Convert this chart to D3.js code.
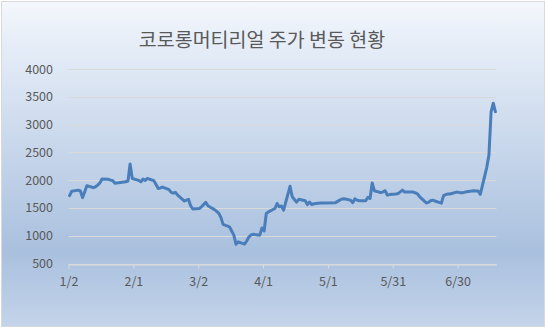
<!DOCTYPE html>
<html>
<head>
<meta charset="utf-8">
<script src="https://cdn.jsdelivr.net/npm/d3@7"></script>
<style>
  body { margin: 0; background: #fff; }
  svg { display: block; }
  text { font-family: "Noto Sans CJK KR", "Noto Sans", sans-serif; fill: #595959; }
</style>
</head>
<body>
<div id="chart"></div>
<script>
// trading days and closing price
const dates = [
  '2020-01-02','2020-01-03','2020-01-06','2020-01-07','2020-01-08','2020-01-09','2020-01-10',
  '2020-01-13','2020-01-14','2020-01-15','2020-01-16','2020-01-17','2020-01-20','2020-01-21',
  '2020-01-22','2020-01-23','2020-01-28','2020-01-29','2020-01-30','2020-01-31',
  '2020-02-03','2020-02-04','2020-02-05','2020-02-06','2020-02-07','2020-02-10','2020-02-11',
  '2020-02-12','2020-02-13','2020-02-14','2020-02-17','2020-02-18','2020-02-19','2020-02-20',
  '2020-02-21','2020-02-24','2020-02-25','2020-02-26','2020-02-27','2020-02-28',
  '2020-03-02','2020-03-03','2020-03-04','2020-03-05','2020-03-06','2020-03-09','2020-03-10',
  '2020-03-11','2020-03-12','2020-03-13','2020-03-16','2020-03-17','2020-03-18','2020-03-19',
  '2020-03-20','2020-03-23','2020-03-24','2020-03-25','2020-03-26','2020-03-27','2020-03-30',
  '2020-03-31',
  '2020-04-01','2020-04-02','2020-04-03','2020-04-06','2020-04-07','2020-04-08','2020-04-09',
  '2020-04-10','2020-04-13','2020-04-14','2020-04-16','2020-04-17','2020-04-20','2020-04-21',
  '2020-04-22','2020-04-23','2020-04-24','2020-04-27','2020-04-28','2020-04-29',
  '2020-05-04','2020-05-06','2020-05-07','2020-05-08','2020-05-11','2020-05-12','2020-05-13',
  '2020-05-14','2020-05-15','2020-05-18','2020-05-19','2020-05-20','2020-05-21','2020-05-22',
  '2020-05-25','2020-05-26','2020-05-27','2020-05-28','2020-05-29',
  '2020-06-01','2020-06-02','2020-06-03','2020-06-04','2020-06-05','2020-06-08','2020-06-09',
  '2020-06-10','2020-06-11','2020-06-12','2020-06-15','2020-06-16','2020-06-17','2020-06-18',
  '2020-06-19','2020-06-22','2020-06-23','2020-06-24','2020-06-25','2020-06-26','2020-06-29',
  '2020-06-30',
  '2020-07-01','2020-07-02','2020-07-03','2020-07-06','2020-07-07','2020-07-08','2020-07-09',
  '2020-07-10','2020-07-13','2020-07-14','2020-07-15','2020-07-16','2020-07-17'
];
const prices = [
  1720,1800,1820,1805,1685,1790,1900,
  1865,1880,1910,1950,2020,2015,2000,
  1990,1945,1970,1985,2290,2030,
  1995,1970,2020,1995,2030,1990,1920,
  1850,1860,1875,1830,1780,1765,1780,
  1730,1625,1640,1655,1540,1480,
  1490,1520,1560,1600,1540,1470,1440,
  1405,1330,1205,1160,1085,1010,845,
  890,850,910,980,1015,1025,1010,
  1140,
  1085,1400,1430,1490,1580,1520,1535,
  1460,1890,1700,1605,1655,1630,1560,
  1605,1560,1575,1590,1590,1590,
  1595,1640,1660,1665,1640,1595,1665,
  1640,1630,1630,1690,1670,1950,1810,
  1775,1790,1810,1730,1740,
  1750,1760,1790,1820,1785,1785,1785,
  1770,1750,1700,1590,1600,1630,1640,
  1625,1585,1720,1740,1750,1750,1785,
  1780,
  1775,1775,1785,1805,1810,1805,1805,
  1745,2230,2450,3230,3385,3230
];
const tickDates = ['2020-01-02','2020-02-01','2020-03-02','2020-04-01','2020-05-01','2020-05-31','2020-06-30'];
const tickLabels = ['1/2','2/1','3/2','4/1','5/1','5/31','6/30'];
const yTicks = [500,1000,1500,2000,2500,3000,3500,4000];
const title = '코로롱머티리얼 주가 변동 현황';

const width = 546, height = 328;
const parse = d3.timeParse('%Y-%m-%d');
const data = dates.map((d,i) => ({date: parse(d), value: prices[i]}));

const svg = d3.select('#chart').append('svg')
    .attr('width', width)
    .attr('height', height);

// background gradient
const grad = svg.append('defs').append('linearGradient')
    .attr('id','bg').attr('x1',0).attr('y1',0).attr('x2',0).attr('y2',1);
grad.append('stop').attr('offset','0%').attr('stop-color','#f4f7fc');
grad.append('stop').attr('offset','12%').attr('stop-color','#e7eef8');
grad.append('stop').attr('offset','77%').attr('stop-color','#a9c0de');
grad.append('stop').attr('offset','100%').attr('stop-color','#c4d4ea');

svg.append('rect')
    .attr('x',1.5).attr('y',1.5)
    .attr('width',width-3).attr('height',height-3)
    .attr('fill','url(#bg)')
    .attr('stroke','#d9d9d9');

// scales: excel date axis, points sit in the middle of each day
const x = d3.scaleTime()
    .domain([parse('2020-01-02'), parse('2020-07-18')])
    .range([68.5, 496.5]);
const y = d3.scaleLinear()
    .domain([500, 4000])
    .range([263.5, 69]);
const half = d => d3.timeHour.offset(d, 12);

// gridlines
svg.append('g')
    .selectAll('line')
    .data(yTicks)
    .enter()
    .append('line')
    .attr('x1', x.range()[0]).attr('x2', x.range()[1])
    .attr('y1', d => Math.round(y(d)) + 0.5)
    .attr('y2', d => Math.round(y(d)) + 0.5)
    .attr('stroke', '#d9d9d9')
    .attr('stroke-width', 1);

// y axis labels
const yAxis = d3.axisLeft(y).tickValues(yTicks).tickFormat(d3.format('d')).tickSize(0).tickPadding(0);
const gy = svg.append('g')
    .attr('transform','translate(53,0)')
    .call(yAxis);
gy.select('.domain').remove();
gy.selectAll('text').style('font-size','12.5px').attr('fill','#595959');

// x axis
const xAxis = d3.axisBottom(x)
    .tickValues(tickDates.map(parse))
    .tickFormat((d,i) => tickLabels[i])
    .tickSizeInner(4).tickSizeOuter(0).tickPadding(9);
const gx = svg.append('g')
    .attr('transform','translate(0,' + (Math.round(y(500)) + 0.5) + ')')
    .call(xAxis);
gx.select('.domain').attr('stroke','#d9d9d9');
gx.selectAll('.tick line').attr('stroke','#d9d9d9');
gx.selectAll('text').style('font-size','12.5px').attr('fill','#595959');

// price line
const line = d3.line()
    .x(d => x(half(d.date)))
    .y(d => y(d.value));
svg.append('path')
    .datum(data)
    .attr('d', line)
    .attr('fill','none')
    .attr('stroke','#4a7ebb')
    .attr('stroke-width',3)
    .attr('stroke-linejoin','round')
    .attr('stroke-linecap','round');

// title
svg.append('text')
    .attr('x', 262)
    .attr('y', 47)
    .attr('text-anchor','middle')
    .style('font-size','19.5px')
    .text(title);
</script>
</body>
</html>
